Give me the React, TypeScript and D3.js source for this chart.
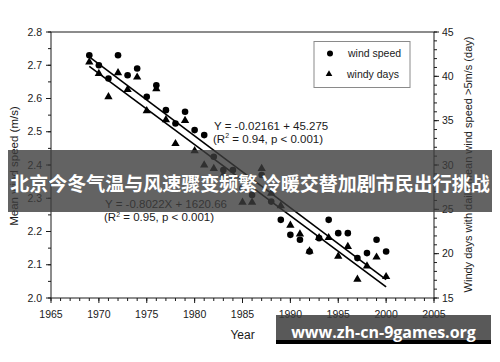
import React from 'react';
import * as d3 from 'd3';

// values
const years = [1969, 1970, 1971, 1972, 1973, 1974, 1975, 1976, 1977, 1978, 1979, 1980, 1981, 1982, 1983, 1984,
  1985, 1986, 1987, 1988, 1989, 1990, 1991, 1992, 1993, 1994, 1995, 1996, 1997, 1998, 1999, 2000];
const windSpeed = [2.73, 2.70, 2.66, 2.73, 2.67, 2.69, 2.605, 2.64, 2.565, 2.525, 2.56, 2.505, 2.49, 2.425, 2.385, 2.385,
  2.33, 2.31, 2.37, 2.29, 2.235, 2.19, 2.175, 2.14, 2.18, 2.235, 2.195, 2.195, 2.12, 2.135, 2.175, 2.14];
const windyDays = [41.6, 40.3, 37.7, 40.4, 38.5, 39.9, 36.1, 38.6, 35.1, 32.4, 35.0, 31.6, 30.0, 29.6, 28.9, 28.3,
  25.8, 25.8, 29.6, 26.8, 25.4, 23.2, 22.2, 20.3, 21.8, 21.8, 19.7, 20.8, 17.1, 18.6, 19.6, 17.4];

// fitted lines, end points
const fitYears = [1969, 2000];
const fitSpeed = [2.725, 2.055];
const fitDays = [41.13, 16.26];

const xTicks = [1965, 1970, 1975, 1980, 1985, 1990, 1995, 2000, 2005];
const leftTicks = [2.0, 2.1, 2.2, 2.3, 2.4, 2.5, 2.6, 2.7, 2.8];
const rightTicks = [15, 20, 25, 30, 35, 40, 45];

const title = '北京今冬气温与风速骤变频繁 冷暖交替加剧市民出行挑战';
const watermark = 'www.zh-cn-9games.org';

const W = 500;
const H = 362;
const font = '"Liberation Sans", Arial, Helvetica, sans-serif';

export default function App() {
  const x = d3.scaleLinear().domain([1965, 2005]).range([51, 434]);
  const yL = d3.scaleLinear().domain([2.0, 2.8]).range([298, 32]);
  const yR = d3.scaleLinear().domain([15, 45]).range([298, 32]);

  const minorX = d3.range(1965, 2006, 1);
  const minorL = d3.range(2.0, 2.801, 0.05);
  const minorR = d3.range(15, 45.01, 1);

  const line = d3.line<[number, number]>();
  const speedLine = line(fitYears.map((yr, i) => [x(yr), yL(fitSpeed[i])]));
  const daysLine = line(fitYears.map((yr, i) => [x(yr), yR(fitDays[i])]));
  const tri = d3.symbol(d3.symbolTriangle, 30)();

  const ink = '#1a1a1a';

  return (
    <svg width={W} height={H} style={{ position: 'absolute', left: 0, top: 0, background: '#fff' }}
      fontFamily={font}>
      <rect width={W} height={H} fill="#fff" />

      {/* frame */}
      <rect x={51} y={32} width={383} height={266} fill="none" stroke={ink} strokeWidth={1} />

      {/* bottom axis */}
      {minorX.map(v => (
        <line key={'mx' + v} x1={x(v)} x2={x(v)} y1={298} y2={301} stroke={ink} />
      ))}
      {xTicks.map(v => (
        <g key={'x' + v}>
          <line x1={x(v)} x2={x(v)} y1={298} y2={303} stroke={ink} />
          <text x={x(v)} y={318} fontSize={10.5} textAnchor="middle" fill={ink}>{v}</text>
        </g>
      ))}

      {/* left axis */}
      {minorL.map(v => (
        <line key={'ml' + v} x1={48} x2={51} y1={yL(v)} y2={yL(v)} stroke={ink} />
      ))}
      {leftTicks.map(v => (
        <g key={'l' + v}>
          <line x1={46} x2={51} y1={yL(v)} y2={yL(v)} stroke={ink} />
          <text x={42} y={yL(v)} dy="0.35em" fontSize={10.5} textAnchor="end" fill={ink}>{v.toFixed(1)}</text>
        </g>
      ))}

      {/* right axis */}
      {minorR.map(v => (
        <line key={'mr' + v} x1={434} x2={437} y1={yR(v)} y2={yR(v)} stroke={ink} />
      ))}
      {rightTicks.map(v => (
        <g key={'r' + v}>
          <line x1={434} x2={439} y1={yR(v)} y2={yR(v)} stroke={ink} />
          <text x={442} y={yR(v)} dy="0.35em" fontSize={10.5} fill={ink}>{v}</text>
        </g>
      ))}

      {/* axis titles */}
      <text transform="translate(17.5,166) rotate(-90)" fontSize={11.5} textAnchor="middle" fill={ink}>
        Mean wind speed (m/s)
      </text>
      <text transform="translate(472,164.5) rotate(-90)" fontSize={11} textAnchor="middle" fill={ink}>
        Windy days with daily mean wind speed &gt;5m/s (day)
      </text>
      <text x={242.5} y={339} fontSize={12} textAnchor="middle" fill={ink}>Year</text>

      {/* fitted lines */}
      <path d={speedLine ?? ''} stroke="#000" strokeWidth={1.6} fill="none" />
      <path d={daysLine ?? ''} stroke="#000" strokeWidth={1.6} fill="none" />

      {/* points */}
      {years.map((yr, i) => (
        <circle key={'c' + yr} cx={x(yr)} cy={yL(windSpeed[i])} r={3.3} fill="#000" />
      ))}
      {years.map((yr, i) => (
        <path key={'t' + yr} d={tri ?? ''} transform={`translate(${x(yr)},${yR(windyDays[i])})`} fill="#000" />
      ))}

      {/* legend */}
      <rect x={314} y={41.5} width={96} height={46} fill="#fff" stroke="#8a8a8a" strokeWidth={1} />
      <circle cx={330} cy={53.5} r={3} fill="#000" />
      <path d={tri ?? ''} transform="translate(329,74) scale(0.8)" fill="#000" />
      <text x={348} y={57} fontSize={10.5} fill={ink}>wind speed</text>
      <text x={347} y={78} fontSize={10.5} fill={ink}>windy days</text>

      {/* regression notes */}
      <text x={214} y={130} fontSize={11.5} fill={ink}>Y = -0.02161 + 45.275</text>
      <text x={213} y={142.5} fontSize={11.5} fill={ink}>
        (R<tspan fontSize={7} dy={-4.5}>2</tspan><tspan dy={4.5}> = 0.94, p &lt; 0.001)</tspan>
      </text>
      <text x={105} y={207.5} fontSize={11.5} fill={ink}>Y = -0.8022X + 1620.66</text>
      <text x={104} y={221} fontSize={11.5} fill={ink}>
        (R<tspan fontSize={7} dy={-4.5}>2</tspan><tspan dy={4.5}> = 0.95, p &lt; 0.001)</tspan>
      </text>

      {/* banner */}
      <rect x={8} y={150} width={484} height={62} fill="rgba(60,60,60,0.8)" />
      <text x={250} y={191} fontSize={19} fontWeight="bold" textAnchor="middle" fill="#fff"
        fontFamily='"Noto Sans CJK SC", sans-serif'>{title}</text>

      {/* watermark */}
      <rect x={276} y={315} width={215} height={25} fill="rgba(60,60,60,0.85)" />
      <rect x={276} y={340} width={215} height={4} fill="#000" />
      <text x={383.5} y={338} fontSize={16} fontWeight="bold" textAnchor="middle" fill="#fff"
        fontFamily='"Open Sans", "Noto Sans", sans-serif'>{watermark}</text>
    </svg>
  );
}
